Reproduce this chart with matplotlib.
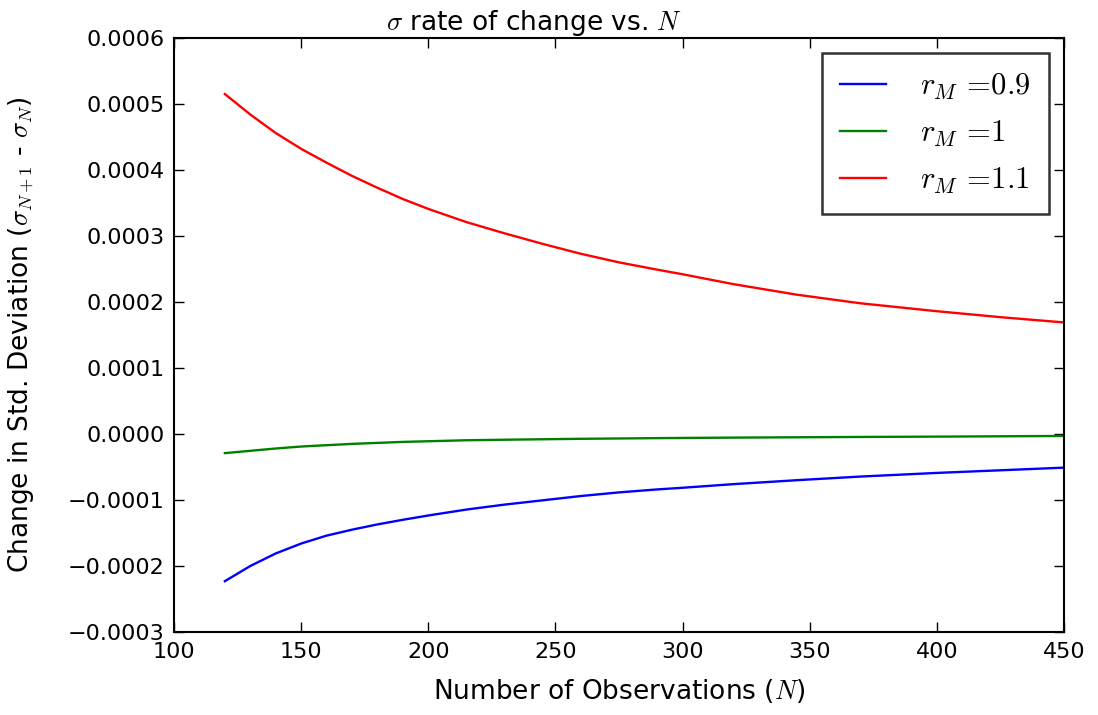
import matplotlib
matplotlib.use('Agg')

import numpy as np
import matplotlib.pyplot as plt
from matplotlib.ticker import FuncFormatter, MultipleLocator

# Observation counts and the change in sigma (x1e-4) for each r_M
n_obs = [120, 130, 140, 150, 160, 170, 180, 190, 200, 215, 230, 245, 260, 275, 290, 300,
         320, 345, 370, 400, 425, 450]
r_values = ['0.9', '1', '1.1']
delta_09 = [-2.23, -2.00, -1.81, -1.66, -1.54, -1.45, -1.37, -1.30, -1.235, -1.145, -1.07, -1.005,
            -0.94, -0.885, -0.84, -0.815, -0.76, -0.70, -0.645, -0.59, -0.55, -0.51]
delta_10 = [-0.29, -0.255, -0.22, -0.19, -0.17, -0.15, -0.135, -0.12, -0.11, -0.095, -0.087,
            -0.08, -0.073, -0.068, -0.063, -0.06, -0.055, -0.05, -0.045, -0.04, -0.035, -0.03]
delta_11 = [5.15, 4.84, 4.56, 4.32, 4.11, 3.91, 3.73, 3.56, 3.41, 3.21, 3.04, 2.88,
            2.73, 2.60, 2.49, 2.42, 2.27, 2.11, 1.98, 1.86, 1.77, 1.69]
line_colors = ['blue', 'green', 'red']

plt.rcParams['mathtext.fontset'] = 'cm'
plt.rcParams['font.size'] = 16

fig = plt.figure(figsize=(10.98, 7.15), dpi=100)
ax = fig.add_axes([0.1585, 0.1161, 0.8105, 0.8308])

for r, vals, c in zip(r_values, [delta_09, delta_10, delta_11], line_colors):
    ax.plot(n_obs, np.array(vals) * 1e-4, color=c, linewidth=1.7,
            label=r'$r_M\,=\!%s$' % r)

ax.set_xlim(100, 450)
ax.set_ylim(-0.0003, 0.0006)
ax.xaxis.set_major_locator(MultipleLocator(50))
ax.yaxis.set_major_locator(MultipleLocator(0.0001))
ax.yaxis.set_major_formatter(FuncFormatter(lambda v, p: ('%.4f' % v).replace('-', '\u2212')
                                           if abs(v) > 1e-12 else '0.0000'))
ax.tick_params(direction='in', length=7.5, width=1.0, top=True, right=True, labelsize=16, pad=7)
for s in ax.spines.values():
    s.set_linewidth(1.5)

ax.set_title(r'$\sigma$ rate of change vs. $N$', fontsize=19, x=0.405)
ax.set_xlabel(r'Number of Observations ($N$)', fontsize=19, labelpad=11)
ax.set_ylabel(r'Change in Std. Deviation ($\sigma_{N+1}$ - $\sigma_N$)', fontsize=19)
ax.yaxis.set_label_coords(-0.155, 0.5)

leg = ax.legend(loc='upper right', fontsize=22, fancybox=False, handlelength=1.5,
                borderpad=0.6, labelspacing=0.55, handletextpad=1.1)
leg.get_frame().set_edgecolor('black')
leg.get_frame().set_linewidth(1.8)

fig.savefig('out.png', dpi=100)
